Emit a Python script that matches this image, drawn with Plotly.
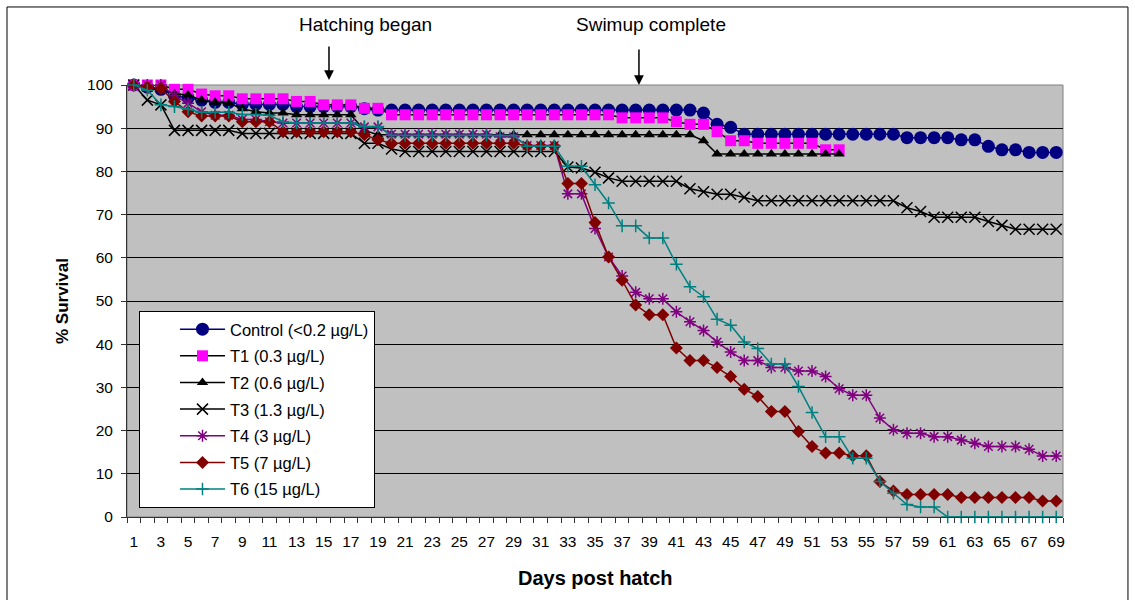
import plotly.graph_objects as go

days = list(range(1, 70))
days_t12 = list(range(1, 54))

control = [100, 99.5, 99, 97.5, 97, 96.5, 96, 96, 95.5, 95.5, 95.5, 95.5, 95, 95, 95, 95, 95, 94.5, 94.2] \
    + [94.2] * 23 + [93.5, 90.9, 90.2] + [88.6] * 12 + [87.8] * 4 + [87.3] * 2 + [85.8] + [85] * 2 + [84.4] * 3

t1 = [100, 100, 100, 99, 99, 97.9, 97.5, 97.5, 96.8, 96.8, 96.8, 96.8, 96.2, 96.2, 95.4, 95.4, 95.4, 94.6, 94.6] \
    + [93.1] * 17 + [92.4] * 4 + [91.5, 90.9, 90.9, 89.2, 87.1, 87.1] + [86.5] * 5 + [85, 85]

t2 = [100, 99, 99, 98, 97.7, 96.5, 96, 95.8, 94.5, 93.8, 93.5, 93.5, 93.1, 93.1, 93.1, 93.1, 93.1, 89.5, 88.5] \
    + [88.5] * 23 + [87.1] + [84] * 10

t3 = [100, 96.5, 95.4] + [89.5] * 5 + [88.8] * 9 + [86.5, 86.5, 85.2] + [84.6] * 12 \
    + [81, 80.8, 79.8, 78.5] + [77.7] * 5 + [76, 75.3, 74.7, 74.7, 74] + [73.2] * 11 \
    + [71.6, 70.7] + [69.4] * 4 + [68.4, 67.5] + [66.6] * 4

t4 = [100, 100, 100, 97.5, 95.8, 93.8, 93, 93, 92, 92, 91.5] + [91.2] * 6 + [90.3, 90.3] + [88.6] * 8 \
    + [88, 88] + [86] * 3 \
    + [74.8, 74.8, 66.8, 60.2, 55.8, 52, 50.5, 50.5, 47.5, 45.2, 43.2, 40.5, 38.2, 36.2, 36.2,
       34.6, 34.6, 33.8, 33.8, 32.5, 29.7, 28.2, 28.2, 22.9, 20.2, 19.4, 19.4, 18.6, 18.6, 17.8,
       17.1, 16.3, 16.3, 16.3, 15.7, 14.1, 14.1]

t5 = [100, 99.5, 99.2, 96.2, 93.8, 92.8, 92.8, 92.8, 91.5, 91.5, 91.5] + [89.2] * 6 + [88.5, 87.3] \
    + [86.5] * 10 + [85.8] * 3 \
    + [77.2, 77.2, 68.2, 60.2, 54.8, 49.1, 46.8, 46.8, 39.1, 36.2, 36.2, 34.6, 32.5, 29.6, 27.9,
       24.4, 24.4, 19.8, 16.3, 14.8, 14.8, 14.2, 14.2, 8.2, 6] \
    + [5.2] * 4 + [4.5] * 6 + [3.7, 3.7]

t6 = [100, 98.8, 95.4, 95, 94.4, 93.7, 93.7, 93.7, 93.2, 93.2, 93, 91.5] + [91.2] * 5 + [90.4, 90.4] \
    + [88.3] * 10 + [85.8] * 3 \
    + [81.2, 81.2, 76.9, 72.7, 67.4, 67.4, 64.6, 64.6, 58.5, 53.3, 51, 45.8, 44.4, 40.5, 39,
       35.4, 35.4, 30.2, 24.2, 18.6, 18.6, 13.6, 13.6, 8.2, 5.5, 2.9, 2.3, 2.3] \
    + [0] * 9

x_ticks = list(range(1, 70, 2))
y_ticks = list(range(0, 101, 10))

FONT = "Liberation Sans, Arial, sans-serif"

series = [
    ("Control (<0.2 µg/L)", days, control, "#000080", "#000080", "circle", 13, 0),
    ("T1 (0.3 µg/L)", days_t12, t1, "#000000", "#FF00FF", "square", 11, 0),
    ("T2 (0.6 µg/L)", days_t12, t2, "#000000", "#000000", "triangle-up", 10, 0),
    ("T3 (1.3 µg/L)", days, t3, "#000000", "#000000", "x-thin", 11, 1.5),
    ("T4 (3 µg/L)", days, t4, "#800080", "#800080", "asterisk-open", 10, 1.5),
    ("T5 (7 µg/L)", days, t5, "#800000", "#800000", "diamond", 10, 0),
    ("T6 (15 µg/L)", days, t6, "#008080", "#008080", "cross-thin-open", 9, 1.5),
]

fig = go.Figure()
for name, xs, ys, lc, mc, sym, sz, lw in series:
    marker = dict(symbol=sym, size=sz, color=mc)
    if lw:
        marker["line"] = dict(color=mc, width=lw)
    else:
        marker["line"] = dict(width=0)
    fig.add_trace(go.Scatter(
        x=xs, y=ys, name=name, mode="lines+markers", legendgroup=name,
        line=dict(color=lc, width=1.5), marker=marker, cliponaxis=False,
    ))

fig.update_layout(
    width=1135, height=600,
    margin=dict(l=127, r=72, t=85, b=83),
    paper_bgcolor="white", plot_bgcolor="#C0C0C0",
    font=dict(family=FONT, size=15, color="black"),
    showlegend=True,
    legend=dict(
        x=0.0128, y=0.477, xanchor="left", yanchor="top",
        bgcolor="white", bordercolor="black", borderwidth=1,
        font=dict(family=FONT, size=16.5, color="black"),
        indentation=35, itemwidth=45, tracegroupgap=2.2,
    ),
    xaxis=dict(
        range=[0.5, 69.5], tickmode="array", tickvals=x_ticks,
        ticktext=[str(v) for v in x_ticks], ticks="", showgrid=False, zeroline=False,
        showline=True, linecolor="#333333", linewidth=1,
        tickfont=dict(size=15.5), ticklabelstandoff=10,
        minor=dict(tickmode="linear", tick0=0.5, dtick=1, ticks="outside",
                   ticklen=5, tickcolor="#333333", showgrid=False),
    ),
    yaxis=dict(
        range=[0, 100], tickmode="array", tickvals=y_ticks,
        ticks="outside", ticklen=5, tickcolor="#333333",
        showgrid=True, gridcolor="#000000", gridwidth=1, zeroline=False,
        showline=True, linecolor="#333333", linewidth=1,
        tickfont=dict(size=15.5), ticklabelstandoff=5,
    ),
    shapes=[
        dict(type="rect", xref="paper", yref="paper", x0=0, x1=1, y0=0, y1=1,
             line=dict(color="#808080", width=1), layer="below"),
        dict(type="rect", xref="paper", yref="paper", x0=-0.1282, x1=1.0694,
             y0=-0.21, y1=1.1806, line=dict(color="#000000", width=1), layer="below"),
    ],
    annotations=[
        dict(text="<b>% Survival</b>", xref="paper", yref="paper", x=-0.0694, y=0.5,
             textangle=-90, showarrow=False, font=dict(size=17), xanchor="center", yanchor="middle"),
        dict(text="<b>Days post hatch</b>", xref="paper", yref="paper", x=0.5, y=-0.141,
             showarrow=False, font=dict(size=20), xanchor="center", yanchor="middle"),
        dict(text="Hatching began", xref="x", yref="paper", x=18.1, y=1.141, showarrow=False,
             font=dict(size=19), xanchor="center", yanchor="middle"),
        dict(text="Swimup complete", xref="x", yref="paper", x=39.1, y=1.141, showarrow=False,
             font=dict(size=19), xanchor="center", yanchor="middle"),
        dict(text="", xref="x", yref="paper", x=15.39, y=1.0116, ax=0, ay=-35, showarrow=True,
             arrowhead=2, arrowsize=1.3, arrowwidth=1.5, arrowcolor="black"),
        dict(text="", xref="x", yref="paper", x=38.24, y=1.0, ax=0, ay=-37, showarrow=True,
             arrowhead=2, arrowsize=1.3, arrowwidth=1.5, arrowcolor="black"),
    ],
)

fig.write_html("out.html")
